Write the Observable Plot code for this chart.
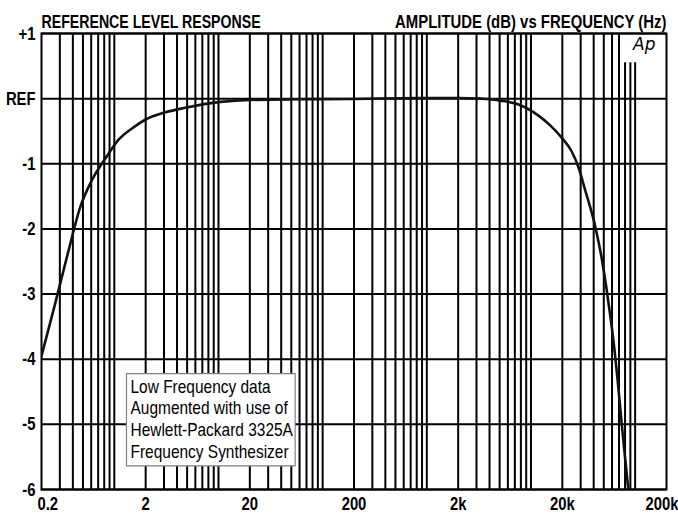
<!DOCTYPE html>
<html><head><meta charset="utf-8">
<script src="https://cdn.jsdelivr.net/npm/d3@7"></script>
<script src="https://cdn.jsdelivr.net/npm/@observablehq/plot@0.6"></script>
<style>
body{margin:0;background:#fff}
#chart svg{display:block}
</style>
</head><body><div id="chart"></div>
<script>
// ---- data ----
const freqHz  = [0.2, 0.27, 0.36, 0.47, 0.62, 0.82, 1.1, 1.5, 2.0, 3.1, 4.8, 10.5, 20, 60, 180, 870, 2000, 3300, 5100, 7600, 11800, 15300, 20000, 24400, 28500, 33200, 41500, 48100, 52900, 57800, 63100, 67900, 74200, 80500, 86000];
const levelDb = [-3.95, -3.15, -2.36, -1.67, -1.23, -0.92, -0.63, -0.45, -0.32, -0.21, -0.14, -0.05, -0.02, -0.01, -0.005, 0.01, 0.01, 0.0, -0.03, -0.09, -0.26, -0.41, -0.61, -0.8, -1.05, -1.41, -1.97, -2.48, -2.9, -3.34, -3.83, -4.32, -4.98, -5.55, -6.0];

const xTickValues = [0.2, 2, 20, 200, 2000, 20000, 200000];
const xTickLabels = ["0.2", "2", "20", "200", "2k", "20k", "200k"];
const yTickValues = [1, 0, -1, -2, -3, -4, -5, -6];
const yTickLabels = ["+1", "REF", "-1", "-2", "-3", "-4", "-5", "-6"];
const gridMultipliers = [1, 2, 3, 4, 5, 6, 7, 8, 9];
const gridDecades = [0.1, 1, 10, 100, 1000, 10000, 100000];
const shortGridHz = [80000, 90000, 100000];
const shortGridTopDb = [0.55];
const titleLeft = ["REFERENCE LEVEL RESPONSE"];
const titleRight = ["AMPLITUDE (dB) vs FREQUENCY (Hz)"];
const noteText = ["Low Frequency data\nAugmented with use of\nHewlett-Packard 3325A\nFrequency Synthesizer"];
const noteHz = [1.43];
const noteDb = [-4.28];
const logoText = ["Ap"];

// ---- derived tables ----
const curve = freqHz.map((f, i) => ({f, db: levelDb[i]}));
const gridX = [];
for (const dec of gridDecades) for (const m of gridMultipliers) {
  const v = +(m * dec).toPrecision(6);
  if (v > 0.2 && v < 200000 && !shortGridHz.includes(v)) gridX.push(v);
}
const xLab = xTickValues.map((v, i) => ({v, t: xTickLabels[i]}));
const yLab = yTickValues.map((v, i) => ({v, t: yTickLabels[i]}));

const FONT = "'Liberation Sans', Arial, sans-serif";
const bold = {fontSize: 19, fontWeight: "bold", fill: "#000"};

const plot = Plot.plot({
  width: 678, height: 514,
  marginLeft: 41, marginRight: 12, marginTop: 33, marginBottom: 25,
  style: {fontFamily: FONT, background: "#fff", color: "#000"},
  x: {type: "log", domain: [0.2, 200000], axis: null},
  y: {domain: [-6, 1], axis: null},
  marks: [
    Plot.ruleX(gridX, {stroke: "#000", strokeWidth: 2}),
    Plot.ruleX(shortGridHz, {y1: shortGridTopDb[0], y2: -6, stroke: "#000", strokeWidth: 2}),
    Plot.ruleY(yTickValues, {stroke: "#000", strokeWidth: 2}),
    Plot.frame({stroke: "#000", strokeWidth: 2}),
    Plot.line(curve, {x: "f", y: "db", stroke: "#111", strokeWidth: 2.6, curve: "monotone-x", clip: true}),
    // y labels
    Plot.text(yLab, {y: "v", text: "t", frameAnchor: "left", textAnchor: "end", dx: -6, ...bold}),
    // x labels
    Plot.text(xLab.slice(1, -1), {x: "v", text: "t", frameAnchor: "bottom", lineAnchor: "top", dy: 7, ...bold}),
    Plot.text(xLab.slice(0, 1), {x: "v", text: "t", frameAnchor: "bottom", lineAnchor: "top", textAnchor: "start", dx: -4, dy: 7, ...bold}),
    Plot.text(xLab.slice(-1), {x: "v", text: "t", frameAnchor: "bottom", lineAnchor: "top", textAnchor: "end", dx: 12, dy: 7, ...bold}),
    // titles
    Plot.text(titleLeft, {frameAnchor: "top-left", lineAnchor: "bottom", textAnchor: "start", dy: -6, ...bold}),
    Plot.text(titleRight, {frameAnchor: "top-right", lineAnchor: "bottom", textAnchor: "end", dy: -6, ...bold}),
    // logo
    Plot.text(logoText, {frameAnchor: "top-right", lineAnchor: "top", textAnchor: "end", dx: -11, dy: 4, fontSize: 17, fontStyle: "italic", fontFamily: "'DejaVu Sans', sans-serif", fontWeight: "normal", fill: "#000"}),
    // annotation
    Plot.text(noteText, {x: noteHz, y: noteDb, textAnchor: "start", lineAnchor: "top", lineHeight: 1.2, fontSize: 18, fill: "#000"})
  ]
});
document.getElementById("chart").append(plot);

// condensed look: squeeze text horizontally around its anchor point
function squeeze(t, s) {
  const tr = t.getAttribute("transform");
  if (tr) t.setAttribute("transform", tr + ` scale(${s},1)`);
  else {
    const x = +t.getAttribute("x") || 0, y = +t.getAttribute("y") || 0;
    t.setAttribute("transform", `translate(${x},${y}) scale(${s},1) translate(${-x},${-y})`);
  }
}
for (const t of plot.querySelectorAll("text")) {
  const content = t.textContent;
  if (content.includes("Low Frequency")) {
    const s = 0.86;
    squeeze(t, s);
    const b = t.getBBox();
    const r = document.createElementNS("http://www.w3.org/2000/svg", "rect");
    const padL = 4 / s, padR = 1.5 / s;
    r.setAttribute("x", b.x - padL);
    r.setAttribute("y", b.y - 3);
    r.setAttribute("width", b.width + padL + padR);
    r.setAttribute("height", b.height + 7);
    r.setAttribute("fill", "#fff");
    r.setAttribute("stroke", "#808080");
    r.setAttribute("stroke-width", "1.2");
    r.setAttribute("vector-effect", "non-scaling-stroke");
    r.setAttribute("transform", t.getAttribute("transform"));
    t.parentNode.insertBefore(r, t);
  } else if (t.closest("[font-weight=bold]")) {
    let s = 0.78;
    if (content === titleLeft[0]) s = 0.745;
    else if (content === titleRight[0]) s = 0.785;
    squeeze(t, s);
  }
}
</script>
</body></html>
